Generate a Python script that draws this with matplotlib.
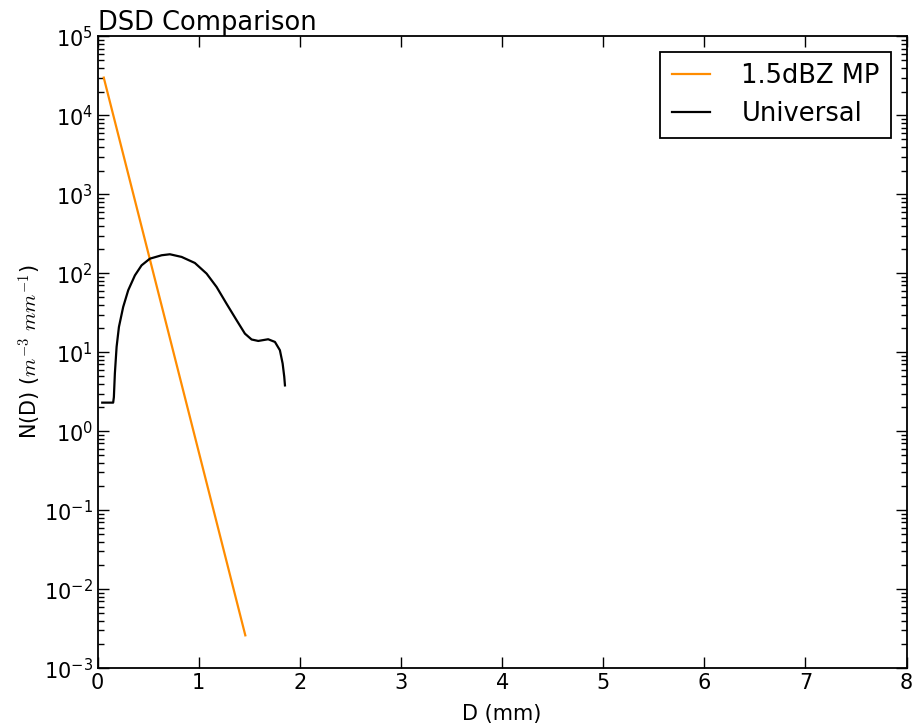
import matplotlib
matplotlib.use('Agg')
import matplotlib.pyplot as plt

plt.rcParams['mathtext.fontset'] = 'cm'

# diameter (mm) and N(D)
mp_d = [0.06, 1.46]
mp_n = [3.0e4, 2.6e-3]

univ_d = [0.045, 0.153, 0.160, 0.170, 0.187, 0.210, 0.252, 0.302, 0.368, 0.434,
          0.516, 0.632, 0.714, 0.830, 0.961, 1.077, 1.176, 1.275, 1.374, 1.456,
          1.522, 1.588, 1.686, 1.753, 1.802, 1.829, 1.845, 1.852]
univ_n = [2.3, 2.3, 2.7, 5.4, 11.7, 20.9, 37.4, 61, 94, 126,
          153, 169, 174, 161, 135, 99, 67, 41, 25.4, 17.2,
          14.5, 13.9, 14.6, 13.5, 10.6, 7.2, 4.9, 3.8]

fig = plt.figure(figsize=(9.13, 7.27), dpi=100)
ax = fig.add_axes([0.107, 0.081, 0.886, 0.869])

ax.plot(mp_d, mp_n, color='darkorange', lw=1.6, label='1.5dBZ MP')
ax.plot(univ_d, univ_n, color='black', lw=1.6, label='Universal',
        solid_joinstyle='round')

ax.set_yscale('log')
ax.set_xlim(0, 8)
ax.set_ylim(1e-3, 1e5)
ax.set_xlabel('D (mm)', fontsize=15, labelpad=8)
ax.set_ylabel(r'N(D) ($m^{-3}\ mm^{-1}$)', fontsize=15, labelpad=0)
ax.set_title('DSD Comparison', loc='left', fontsize=18.5, pad=4)

ax.tick_params(which='both', direction='in', top=True, right=True, labelsize=15)
ax.tick_params(which='major', length=8, width=1)
ax.tick_params(which='minor', length=4, width=1)
for s in ax.spines.values():
    s.set_linewidth(1.3)

leg = ax.legend(loc='upper right', fontsize=18.5, fancybox=False, handlelength=1.5,
                borderpad=0.45, handletextpad=1.2, labelspacing=0.45,
                borderaxespad=0.6)
leg.get_frame().set_edgecolor('black')
leg.get_frame().set_linewidth(1.3)
leg.get_frame().set_alpha(1)

fig.savefig('out.png', dpi=100)
